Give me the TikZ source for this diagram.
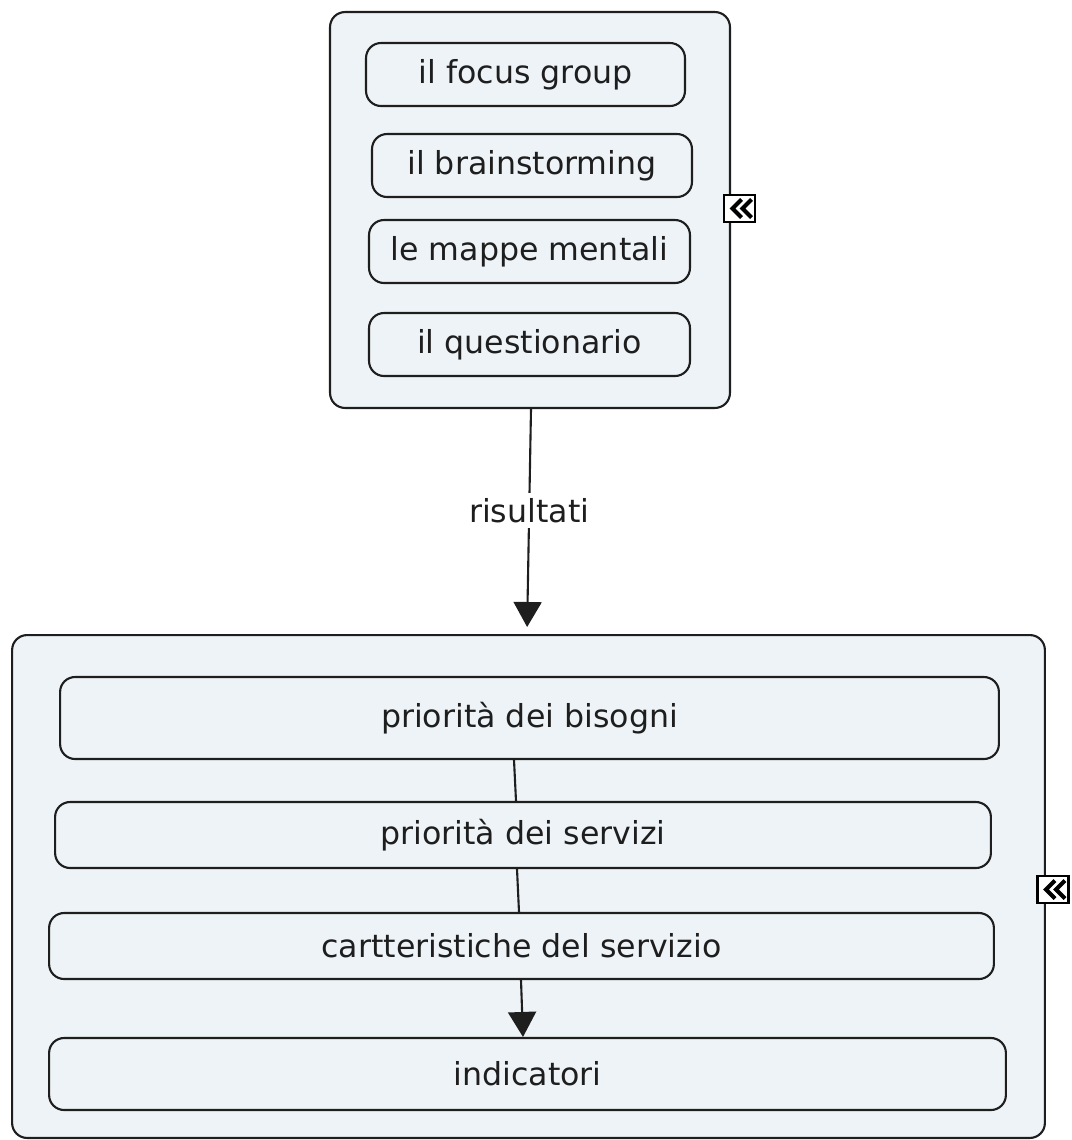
\documentclass[tikz,border=0pt]{standalone}
\usepackage{fontspec}
\setmainfont{DejaVu Sans}
\usetikzlibrary{arrows.meta,positioning}
\definecolor{panelfill}{RGB}{238,243,247}
\definecolor{inkgray}{RGB}{30,30,30}
\tikzset{
  panel/.style={draw=inkgray, line width=1.2pt, rounded corners=0.3cm, fill=panelfill},
  concept/.style={draw=inkgray, line width=1.2pt, rounded corners=0.3cm, fill=panelfill,
    text=inkgray, font=\fontsize{18}{21}\selectfont, minimum height=1.26cm},
  link/.style={draw=inkgray, line width=1.2pt},
  tip/.style={-{Triangle[width=0.56cm,length=0.5cm]}},
  expander/.style={draw=black, line width=1.2pt, fill=white, minimum width=0.62cm,
    minimum height=0.54cm, inner sep=0pt},
}

\begin{document}
\begin{tikzpicture}[x=0.02cm, y=-0.02cm]
            \useasboundingbox (0,0) rectangle (1072,1140);
            % upper panel
            \node[panel, minimum width=8cm, minimum height=7.92cm] (metodi) at (530,210) {};
            \node[concept, minimum width=6.38cm] (focus) at (525.5,74.5) {il focus group};
            \node[concept, minimum width=6.4cm] (brain) at (532,165.5) {il brainstorming};
            \node[concept, minimum width=6.42cm] (mappe) at (529.5,251.5) {le mappe mentali};
            \node[concept, minimum width=6.42cm] (quest) at (529.5,344.5) {il questionario};
            \node[expander] (espandi1) at (739.5,208.5) {};
            % lower panel
            \node[panel, minimum width=20.66cm, minimum height=10.06cm] (esiti) at (528.5,886.5) {};
            \node[concept, minimum width=18.78cm, minimum height=1.64cm] (bisogni) at (529.5,718) {priorità dei bisogni};
            \node[concept, minimum width=18.72cm, minimum height=1.32cm] (servizi) at (523,835) {priorità dei servizi};
            \node[concept, minimum width=18.9cm, minimum height=1.32cm] (caratt) at (521.5,946) {cartteristiche del servizio};
            \node[concept, minimum width=19.14cm, minimum height=1.44cm] (indic) at (527.5,1074) {indicatori};
            \node[expander] (espandi2) at (1053,889.5) {};
            % chevrons of the expanders
            \foreach \e in {espandi1,espandi2}
              \foreach \d in {0,10}
                \draw[line width=2.3pt, line join=miter] ([shift={(2+\d,-9)}]\e.center) -- ([shift={(-7+\d,0)}]\e.center) -- ([shift={(2+\d,9)}]\e.center);
            % links
            \draw[link, tip, shorten >=0.14cm] ([xshift=0.02cm]metodi.south) -- ([xshift=-0.03cm]esiti.north)
              node[pos=0.45, fill=white, text=inkgray, font=\fontsize{18}{21}\selectfont, inner sep=3pt] (risult) {risultati};
            \draw[link] ([xshift=-0.31cm]bisogni.south) -- ([xshift=-0.14cm]servizi.north);
            \draw[link] ([xshift=-0.12cm]servizi.south) -- ([xshift=-0.05cm]caratt.north);
            \draw[link, tip] ([xshift=-0.01cm]caratt.south) -- ([xshift=-0.09cm]indic.north);
        \end{tikzpicture}
\end{document}
